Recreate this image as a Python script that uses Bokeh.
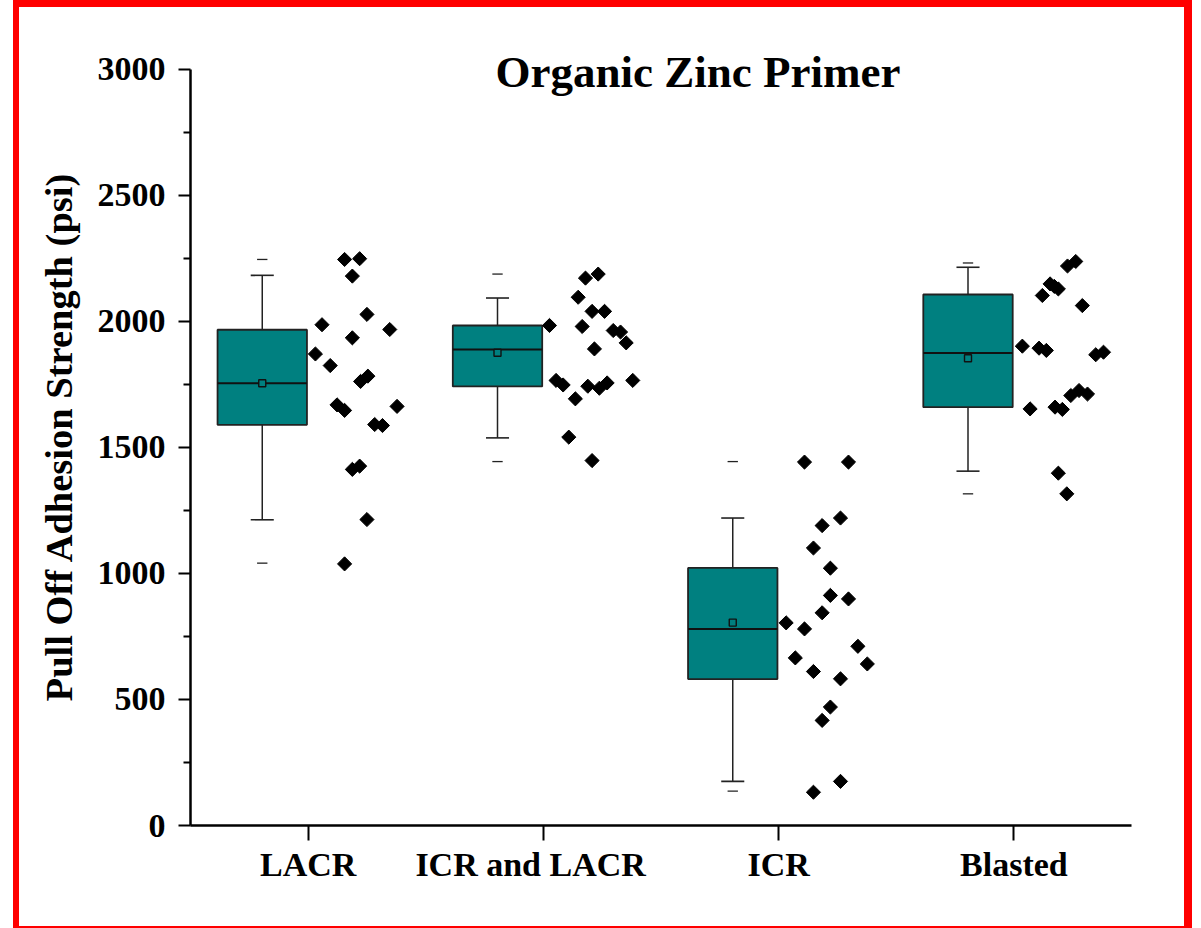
import numpy as np
from bokeh.plotting import figure
from bokeh.models import FixedTicker, Label
from bokeh.embed import file_html
from bokeh.resources import INLINE

# ---------------- data ----------------
categories = ["LACR", "ICR and LACR", "ICR", "Blasted"]
q1 = [1590, 1742, 581, 1660]
median = [1755, 1889, 780, 1875]
q3 = [1967, 1984, 1022, 2107]
mean = [1755, 1876, 805, 1854]
whisker_low = [1213, 1538, 175, 1406]
whisker_high = [2183, 2093, 1220, 2215]
minimum = [1041, 1444, 136, 1316]
maximum = [2246, 2188, 1444, 2232]

lacr_values = [2246, 2249, 2180, 2028, 1987, 1968, 1935, 1871, 1825, 1783,
               1762, 1669, 1647, 1663, 1591, 1587, 1413, 1426, 1214, 1038]
lacr_jitter = [0.155, 0.219, 0.188, 0.250, 0.059, 0.347, 0.188, 0.031, 0.094, 0.254,
               0.223, 0.123, 0.155, 0.378, 0.283, 0.316, 0.188, 0.219, 0.250, 0.155]

icr_lacr_values = [2172, 2188, 2096, 2040, 2040, 1984, 1980, 1964, 1958, 1915,
                   1891, 1766, 1748, 1743, 1735, 1756, 1766, 1693, 1541, 1448]
icr_lacr_jitter = [0.179, 0.233, 0.148, 0.207, 0.260, 0.026, 0.165, 0.297, 0.328, 0.352,
                   0.217, 0.054, 0.084, 0.189, 0.238, 0.271, 0.380, 0.136, 0.108, 0.207]

icr_values = [1442, 1442, 1220, 1190, 1101, 1021, 913, 899, 844, 804,
              780, 711, 665, 641, 611, 582, 470, 417, 175, 132]
icr_jitter = [0.110, 0.297, 0.263, 0.185, 0.148, 0.220, 0.220, 0.297, 0.185, 0.032,
              0.110, 0.337, 0.071, 0.377, 0.148, 0.263, 0.220, 0.185, 0.263, 0.148]

blasted_values = [2220, 2238, 2149, 2139, 2129, 2103, 2063, 1902, 1894, 1885,
                  1868, 1878, 1706, 1726, 1712, 1653, 1660, 1651, 1398, 1316]
blasted_jitter = [0.228, 0.263, 0.154, 0.172, 0.189, 0.121, 0.291, 0.036, 0.107, 0.138,
                  0.348, 0.381, 0.242, 0.277, 0.313, 0.069, 0.175, 0.206, 0.189, 0.225]

y_ticks = [0, 500, 1000, 1500, 2000, 2500, 3000]
y_minor_ticks = [250, 750, 1250, 1750, 2250, 2750]

title_text = "Organic Zinc Primer"
y_label = "Pull Off Adhesion Strength (psi)"

# ---------------- styles ----------------
FONT = "Liberation Serif"
TEAL = "#008080"
EDGE = "#222222"
BOX_OFFSET = -0.195
BOX_HALF = 0.19
CAP_HALF = 0.049
DASH_HALF = 0.022
Y_AXIS_TOP = 3000
Y_VIEW_TOP = 3087   # a little headroom above the axis for the title

cat_x = np.arange(1, len(categories) + 1)
box_x = cat_x + BOX_OFFSET

p = figure(width=1165, height=919, x_range=(0.5, 4.5), y_range=(0, Y_VIEW_TOP),
           output_backend="svg", toolbar_location=None,
           min_border_left=171, min_border_right=67,
           min_border_top=40, min_border_bottom=110)
p.styles = {"box-sizing": "content-box",
            "border-left": "6px solid red", "border-top": "7px solid red",
            "border-right": "8px solid red", "border-bottom": "2px solid red",
            "margin-left": "13px"}
p.grid.visible = False
p.outline_line_color = None
p.background_fill_color = "white"
p.border_fill_color = "white"

# boxes
p.quad(left=box_x - BOX_HALF, right=box_x + BOX_HALF, bottom=q1, top=q3,
       fill_color=TEAL, line_color=EDGE, line_width=1.8)
# whiskers
p.segment(x0=box_x, y0=q3, x1=box_x, y1=whisker_high, line_color=EDGE, line_width=1.5)
p.segment(x0=box_x, y0=q1, x1=box_x, y1=whisker_low, line_color=EDGE, line_width=1.5)
p.segment(x0=box_x - CAP_HALF, y0=whisker_high, x1=box_x + CAP_HALF, y1=whisker_high,
          line_color=EDGE, line_width=1.6)
p.segment(x0=box_x - CAP_HALF, y0=whisker_low, x1=box_x + CAP_HALF, y1=whisker_low,
          line_color=EDGE, line_width=1.6)
# min / max dashes
p.segment(x0=box_x - DASH_HALF, y0=maximum, x1=box_x + DASH_HALF, y1=maximum,
          line_color=EDGE, line_width=1.3)
p.segment(x0=box_x - DASH_HALF, y0=minimum, x1=box_x + DASH_HALF, y1=minimum,
          line_color=EDGE, line_width=1.3)
# median
p.segment(x0=box_x - BOX_HALF, y0=median, x1=box_x + BOX_HALF, y1=median,
          line_color="#111111", line_width=2)
# mean
p.scatter(x=box_x, y=mean, marker="square", size=7, fill_color=TEAL,
          line_color="#111111", line_width=1.4)

# raw data points
for i, (vals, jit) in enumerate([(lacr_values, lacr_jitter),
                                 (icr_lacr_values, icr_lacr_jitter),
                                 (icr_values, icr_jitter),
                                 (blasted_values, blasted_jitter)]):
    xs = cat_x[i] + np.array(jit)
    p.scatter(x=xs, y=vals, marker="square", angle=np.pi / 4, size=10,
              fill_color="black", line_color="black")

# axes
xa = p.xaxis[0]
xa.ticker = FixedTicker(ticks=list(cat_x))
xa.major_label_overrides = {int(c): lab for c, lab in zip(cat_x, categories)}
xa.major_label_overrides[2] = "ICR and LACR\u00a0\u00a0\u00a0"
xa.minor_tick_line_color = None
xa.major_tick_out = 15
xa.major_tick_in = 0
xa.axis_line_width = 2.5
xa.major_tick_line_width = 2
xa.major_label_text_font = FONT
xa.major_label_text_font_style = "bold"
xa.major_label_text_font_size = "34px"
xa.major_label_text_color = "black"
xa.major_label_standoff = 5

ya = p.yaxis[0]
ya.bounds = (0, Y_AXIS_TOP)
ya.ticker = FixedTicker(ticks=y_ticks, minor_ticks=y_minor_ticks)
ya.major_tick_out = 12
ya.major_tick_in = 0
ya.minor_tick_out = 7
ya.minor_tick_in = 0
ya.axis_line_width = 2.5
ya.major_tick_line_width = 2
ya.minor_tick_line_width = 2
ya.major_label_text_font = FONT
ya.major_label_text_font_style = "bold"
ya.major_label_text_font_size = "34px"
ya.major_label_text_color = "black"
ya.major_label_standoff = 13
ya.axis_label = y_label
ya.axis_label_text_font = FONT
ya.axis_label_text_font_style = "bold"
ya.axis_label_text_font_size = "38.5px"
ya.axis_label_text_color = "black"
ya.axis_label_standoff = 15

# title
p.add_layout(Label(x=2.657, y=2988, text=title_text, text_align="center",
                   text_baseline="alphabetic", text_font=FONT,
                   text_font_style="bold", text_font_size="45px",
                   text_color="black"))

open("out.html", "w").write(file_html(p, INLINE))
